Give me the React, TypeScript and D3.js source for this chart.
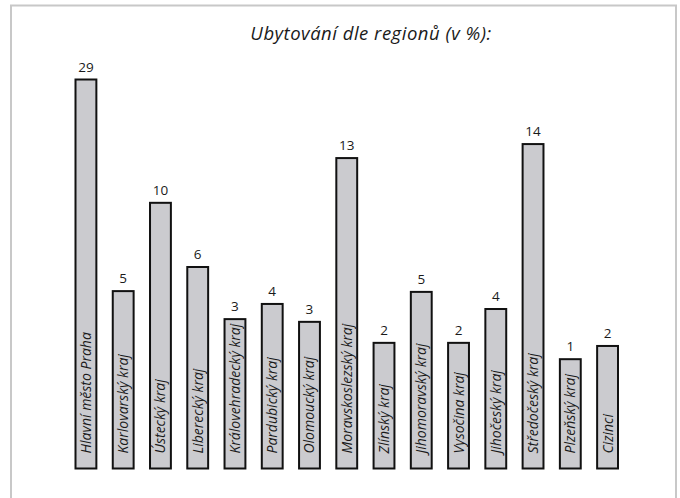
import React, { useMemo } from "react";
import * as d3 from "d3";

const regions = [
  "Hlavní město Praha",
  "Karlovarský kraj",
  "Ústecký kraj",
  "Liberecký kraj",
  "Královehradecký kraj",
  "Pardubický kraj",
  "Olomoucký kraj",
  "Moravskoslezský kraj",
  "Zlínský kraj",
  "Jihomoravský kraj",
  "Vysočina kraj",
  "Jihočeský kraj",
  "Středočeský kraj",
  "Plzeňský kraj",
  "Cizinci",
];

// printed value above each bar (%)
const shares = [29, 5, 10, 6, 3, 4, 3, 13, 2, 5, 2, 4, 14, 1, 2];

// bar length as drawn in the source (not proportional to the printed value), Praha = 100
const barLengths = [
  100, 45.6, 68.3, 51.8, 38.4, 42.3, 37.7, 79.8, 32.3, 45.4, 32.3, 41.0, 83.4,
  28.1, 31.5,
];

const title = "Ubytování dle regionů (v %):";

const W = 680;
const H = 498;
const FONT = "'Open Sans', 'Noto Sans', sans-serif";

export default function App() {
  const data = useMemo(
    () =>
      regions.map((name, i) => ({
        name,
        share: shares[i],
        len: barLengths[i],
      })),
    []
  );

  const x = d3
    .scaleBand<string>()
    .domain(regions)
    .range([75.5, 618])
    .paddingInner(0.44)
    .paddingOuter(0);

  const y = d3.scaleLinear().domain([0, 100]).range([468.5, 79.5]);

  return (
    <svg
      width={W}
      height={H}
      style={{ position: "absolute", left: 0, top: 0, background: "#fff" }}
      fontFamily={FONT}
    >
      <rect
        x={11}
        y={5.5}
        width={665}
        height={540}
        fill="none"
        stroke="#c8c8c8"
        strokeWidth={2}
      />
      <text
        x={371}
        y={40}
        textAnchor="middle"
        fontSize={18.5}
        letterSpacing={0.5}
        fontStyle="italic"
        fill="#1a1a1a"
      >
        {title}
      </text>
      <g>
        {data.map((d) => {
          const bx = x(d.name) ?? 0;
          const bw = x.bandwidth();
          const top = y(d.len);
          const cx = bx + bw / 2;
          return (
            <g key={d.name}>
              <rect
                x={bx}
                y={top}
                width={bw}
                height={y(0) - top}
                fill="#cbcbcf"
                stroke="#111"
                strokeWidth={2}
              />
              <text
                x={cx}
                y={top - 8}
                textAnchor="middle"
                fontSize={13.5}
                fill="#1a1a1a"
              >
                {d.share}
              </text>
              <text
                transform={`translate(${cx + 5},${y(0) - 15}) rotate(-90)`}
                fontSize={14}
                fontStyle="italic"
                fill="#1a1a1a"
              >
                {d.name}
              </text>
            </g>
          );
        })}
      </g>
    </svg>
  );
}
